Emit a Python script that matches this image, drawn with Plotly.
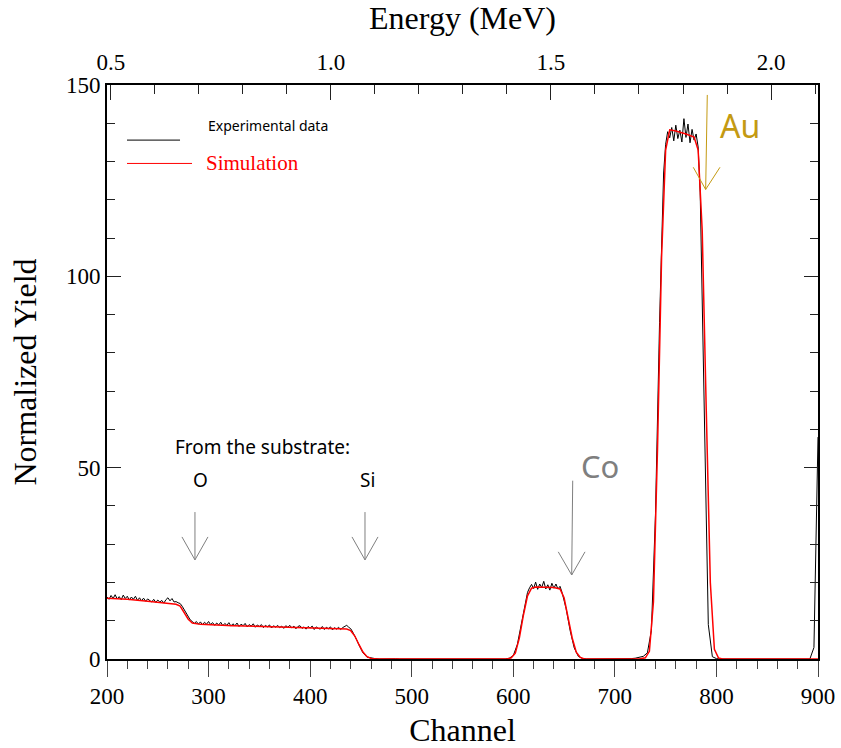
import plotly.graph_objects as go

# Measured RBS spectrum: channels sampled every 2 channels on the plateaus, every 4 elsewhere
exp_channel = (list(range(200, 448, 2)) + list(range(448, 612, 4)) + list(range(612, 650, 2))
               + list(range(652, 748, 4)) + list(range(748, 786, 2)) + list(range(788, 904, 4)))
exp_yield = [
    # 200 - 270
    16.2, 15.6, 16.6, 15.8, 16.8, 15.7, 16.3, 15.5, 16.7, 15.8, 16.4, 15.4, 16.2, 15.6, 16.4, 15.3,
    16.0, 15.2, 15.9, 15.1, 15.7, 15.3, 14.9, 15.6, 14.8, 15.4, 14.9, 15.3, 14.6, 15.5, 16.0, 15.2,
    15.8, 14.9, 15.0, 14.7,
    # 272 - 290
    14.5, 13.8, 12.9, 11.9, 10.9, 10.2, 9.8, 9.3, 9.8, 9.1,
    # 292 - 440
    9.7, 8.9, 9.6, 9.1, 9.8, 9.0, 9.5, 8.8, 9.4, 8.9, 9.6, 8.7, 9.3, 8.8, 9.5, 8.6,
    9.2, 8.7, 9.4, 8.5, 9.1, 8.7, 9.3, 8.4, 9.0, 8.6, 9.2, 8.3, 8.9, 8.5, 9.0, 8.2,
    8.8, 8.4, 8.9, 8.1, 8.7, 8.3, 8.8, 8.2, 8.6, 8.0, 8.7, 8.3, 8.8, 8.1, 8.6, 7.9,
    8.5, 8.7, 8.0, 8.4, 7.8, 8.5, 8.1, 8.6, 7.7, 8.4, 8.0, 7.8, 8.5, 7.7, 8.3, 7.9,
    8.4, 7.6, 8.2, 7.8, 8.3, 7.7, 8.2, 8.5, 8.8, 8.3, 7.9,
    # 442 - 446
    7.0, 6.1, 4.9,
    # 448 - 608
    3.7, 1.6, 0.5, 0.2, 0.1, 0.0, 0.05,
    0.0, 0.0, 0.05, 0.0, 0.0, 0.0, 0.05, 0.0, 0.0, 0.0, 0.05, 0.0, 0.0, 0.0, 0.0,
    0.05, 0.0, 0.0, 0.0, 0.05, 0.0, 0.0, 0.0, 0.0, 0.05, 0.0, 0.0, 0.0, 0.05, 0.0,
    0.2, 0.9, 3.8, 9.5,
    # 612 - 648
    15.2, 17.4, 18.6, 19.5, 18.4, 20.1, 18.2, 19.6, 18.7, 20.3, 18.3, 19.4, 18.0, 19.8, 18.5, 19.6,
    18.3, 19.0, 17.4,
    # 652 - 744
    13.2, 7.4, 2.9, 0.7, 0.15, 0.0, 0.0, 0.05, 0.0, 0.0, 0.0, 0.05, 0.0, 0.0, 0.05, 0.0,
    0.1, 0.2, 0.4, 0.7, 1.6, 7.5, 38.0, 88.0,
    # 748 - 784
    127.0, 134.5, 137.8, 136.2, 138.9, 135.4, 139.5, 136.0, 138.2, 135.1, 141.2, 136.3, 139.8, 134.9,
    138.4, 135.6, 137.2, 133.8, 122.0,
    # 788 - 900
    68.0, 9.0, 0.6, 0.1,
    0.0, 0.0, 0.05, 0.0, 0.0, 0.0, 0.05, 0.0, 0.0, 0.0, 0.0, 0.05, 0.0, 0.0, 0.0, 0.0,
    0.05, 0.0, 0.0, 0.0, 0.05, 0.0, 0.0,
    3.0, 58.0,
]
assert len(exp_channel) == len(exp_yield), (len(exp_channel), len(exp_yield))

# Simulated spectrum
sim_channel = [200, 220, 240, 264, 268, 272, 276, 280, 284, 288, 292, 324, 360, 390, 420, 436,
               440, 444, 448, 452, 456, 460, 466, 470, 594, 598, 602, 606, 610, 614, 618, 622,
               640, 646, 650, 654, 658, 662, 666, 670, 724, 730, 734, 738, 742, 746, 750, 754,
               760, 770, 778, 782, 786, 790, 794, 798, 802, 806, 900]
sim_yield = [15.9, 15.6, 15.1, 14.5, 14.3, 13.8, 12.2, 10.4, 9.4, 9.15, 9.05, 8.7, 8.45, 8.3, 8.1, 7.85,
             7.4, 6.0, 3.8, 1.8, 0.6, 0.15, 0.03, 0.0, 0.0, 0.3, 1.5, 5.5, 11.5, 16.5, 18.5, 18.8,
             18.7, 18.3, 16.0, 11.0, 5.5, 1.8, 0.4, 0.0, 0.0, 0.3, 2.0, 15.0, 55.0, 105.0, 133.0, 138.3,
             138.0, 137.2, 136.4, 133.0, 112.0, 65.0, 20.0, 2.5, 0.3, 0.0, 0.0]

energy_ticks = [0.5, 1.0, 1.5, 2.0]
energy_labels = ["0.5", "1.0", "1.5", "2.0"]
energy_range = [0.4914, 2.1067]

serif = "Liberation Serif, Times New Roman, serif"
sans = "Noto Sans, Open Sans, sans-serif"

fig = go.Figure()
fig.add_trace(go.Scatter(x=exp_channel, y=exp_yield, mode="lines",
                         line=dict(color="black", width=1), showlegend=False, hoverinfo="skip"))
fig.add_trace(go.Scatter(x=sim_channel, y=sim_yield, mode="lines",
                         line=dict(color="red", width=1.5), showlegend=False, hoverinfo="skip"))
# carrier for the energy axis on top
fig.add_trace(go.Scatter(x=energy_ticks, y=[0] * len(energy_ticks), xaxis="x2", mode="lines",
                         line=dict(width=0), opacity=0, showlegend=False, hoverinfo="skip"))

gray = "#7f7f7f"
gold = "#c49a12"
shapes = []


def arrow(x0, y0, x1, y1, hx0, hx1, hy, color, width=1):
    shapes.append(dict(type="line", xref="x", yref="y", x0=x0, y0=y0, x1=x1, y1=y1,
                       line=dict(color=color, width=width)))
    shapes.append(dict(type="path", xref="x", yref="y",
                       path=f"M {hx0},{hy} L {x1},{y1} L {hx1},{hy}",
                       line=dict(color=color, width=width)))


arrow(286.6, 38.4, 286.6, 25.9, 273.8, 299.4, 31.9, gray)
arrow(454.0, 38.4, 454.0, 25.9, 441.2, 466.8, 31.9, gray)
arrow(658.5, 46.6, 657.5, 21.95, 644.3, 670.6, 28.0, gray)
arrow(791.0, 147.4, 789.4, 122.7, 777.2, 803.5, 128.5, gold)

# legend lines
shapes.append(dict(type="line", xref="x", yref="y", x0=219.7, x1=271.9, y0=135.6, y1=135.6,
                   line=dict(color="black", width=1)))
shapes.append(dict(type="line", xref="x", yref="y", x0=219.7, x1=283.7, y0=129.5, y1=129.5,
                   line=dict(color="red", width=1)))

annotations = [
    dict(x=297.5, y=139.3, text="Experimental data", xanchor="left", yanchor="middle",
         font=dict(family=sans, size=14, color="black")),
    dict(x=295.5, y=129.6, text="Simulation", xanchor="left", yanchor="middle",
         font=dict(family=serif, size=21, color="red")),
    dict(x=265.0, y=55.4, text="From the substrate:", xanchor="left", yanchor="middle",
         font=dict(family=sans, size=19, color="black")),
    dict(x=291.6, y=46.8, text="O", xanchor="center", yanchor="middle",
         font=dict(family=sans, size=19, color="black")),
    dict(x=456.0, y=46.8, text="Si", xanchor="center", yanchor="middle",
         font=dict(family=sans, size=19, color="black")),
    dict(x=664.5, y=50.4, text="Co", xanchor="left", yanchor="middle",
         font=dict(family=sans, size=31, color=gray)),
    dict(x=801.5, y=139.5, text="Au", xanchor="left", yanchor="middle",
         font=dict(family=sans, size=32, color=gold)),
]
for a in annotations:
    a.update(xref="x", yref="y", showarrow=False)

fig.update_layout(
    width=841, height=748,
    margin=dict(l=107, r=23, t=85, b=89),
    plot_bgcolor="white", paper_bgcolor="white",
    shapes=shapes, annotations=annotations,
    xaxis=dict(
        range=[200, 900], dtick=100, tick0=200, automargin=False,
        ticks="outside", ticklen=16, tickwidth=1, tickcolor="#444",
        minor=dict(dtick=20, ticks="outside", ticklen=8, tickcolor="#444"),
        showline=True, linecolor="black", linewidth=1.5,
        showgrid=False, zeroline=False,
        tickfont=dict(family=serif, size=23, color="black"),
        title=dict(text="Channel", font=dict(family=serif, size=32, color="black"), standoff=12),
    ),
    xaxis2=dict(
        overlaying="x", side="top", anchor="y", range=energy_range, automargin=False,
        tickvals=energy_ticks, ticktext=energy_labels,
        ticks="inside", ticklen=15, tickwidth=1, tickcolor="#222",
        minor=dict(dtick=0.1, tick0=0.5, ticks="inside", ticklen=9, tickcolor="#222"),
        showline=True, linecolor="black", linewidth=1.5,
        showgrid=False, zeroline=False, ticklabelstandoff=4,
        tickfont=dict(family=serif, size=23, color="black"),
        title=dict(text="Energy (MeV)", font=dict(family=serif, size=32, color="black"), standoff=14),
    ),
    yaxis=dict(
        range=[0, 150], dtick=50, tick0=0, automargin=False,
        ticks="inside", ticklen=14, tickwidth=1, tickcolor="#222",
        minor=dict(dtick=10, ticks="inside", ticklen=8, tickcolor="#222"),
        showline=True, linecolor="black", linewidth=2, mirror="ticks",
        showgrid=False, zeroline=False,
        tickfont=dict(family=serif, size=23, color="black"),
        title=dict(text="Normalized Yield", font=dict(family=serif, size=32, color="black"), standoff=20),
    ),
)

fig.write_html("out.html")
